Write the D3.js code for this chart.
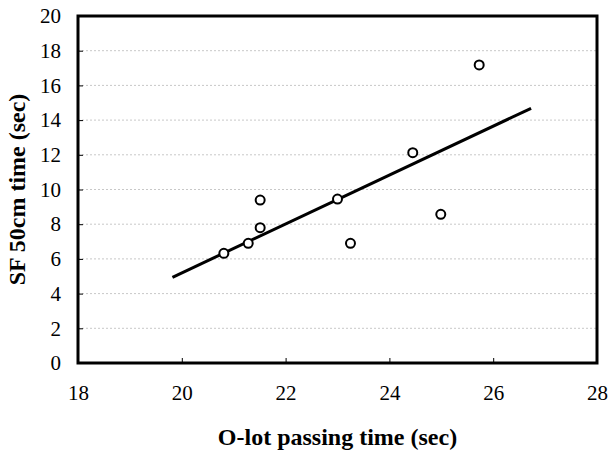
<html>
<head>
<script src="https://d3js.org/d3.v7.min.js"></script>
</head>
<style>
body { margin:0; background:#fff; }
</style>
<body>
<script>

// data
var oLot = [20.81, 21.28, 21.51, 21.51, 23.0, 23.25, 24.45, 24.99, 25.73];
var sf50 = [6.32, 6.90, 7.80, 9.39, 9.45, 6.90, 12.12, 8.57, 17.18];
var trendX = [19.82, 26.73];
var trendY = [4.94, 14.68];
var xTicks = [18, 20, 22, 24, 26, 28];
var yTicks = [0, 2, 4, 6, 8, 10, 12, 14, 16, 18, 20];

var width = 608;
var height = 454;
var margin = {top:16, right:11, bottom:91, left:78};
var w = width - margin.left - margin.right;
var h = height - margin.top - margin.bottom;

var svg = d3.select("body").append("svg")
    .attr("width", width)
    .attr("height", height)
    .append("g")
    .attr("transform", "translate(" + margin.left + "," + margin.top + ")");

var x = d3.scaleLinear().domain([18, 28]).range([0, w]);
var y = d3.scaleLinear().domain([0, 20]).range([h, 0]);

// faint dotted grid
svg.append("g")
  .selectAll("line")
  .data(yTicks.filter(function(d){ return d > 0 && d < 20; }))
  .enter().append("line")
    .attr("x1", 0).attr("x2", w)
    .attr("y1", function(d){ return y(d); })
    .attr("y2", function(d){ return y(d); })
    .attr("stroke", "#c8c8c8")
    .attr("stroke-width", 1)
    .attr("stroke-dasharray", "2,2");

var font = "'Liberation Serif', 'Times New Roman', serif";

var xAxis = svg.append("g")
    .attr("transform", "translate(0," + h + ")")
    .call(d3.axisBottom(x).tickValues(xTicks).tickSize(-5).tickPadding(22).tickFormat(d3.format("d")));
var yAxis = svg.append("g")
    .call(d3.axisLeft(y).tickValues(yTicks).tickSize(-5).tickPadding(17).tickFormat(d3.format("d")));

[xAxis, yAxis].forEach(function(a){
  a.attr("font-family", null).attr("font-size", null);
  a.select(".domain").remove();
  a.selectAll("line").attr("stroke", "#000").attr("stroke-width", 1);
  a.selectAll("text")
    .style("font-family", font)
    .style("font-size", "21px")
    .attr("fill", "#000");
});

// frame
svg.append("rect")
  .attr("x", 0).attr("y", 0)
  .attr("width", w).attr("height", h)
  .attr("fill", "none")
  .attr("stroke", "#000")
  .attr("stroke-width", 3);

// trend line
svg.append("line")
  .attr("x1", x(trendX[0])).attr("y1", y(trendY[0]))
  .attr("x2", x(trendX[1])).attr("y2", y(trendY[1]))
  .attr("stroke", "#000")
  .attr("stroke-width", 3);

// points
svg.append("g")
  .selectAll("circle")
  .data(oLot)
  .enter().append("circle")
    .attr("cx", function(d){ return x(d); })
    .attr("cy", function(d, i){ return y(sf50[i]); })
    .attr("r", 4.5)
    .attr("fill", "#fff")
    .attr("stroke", "#000")
    .attr("stroke-width", 2);

svg.append("text")
  .attr("x", w/2)
  .attr("y", h + 82)
  .attr("text-anchor", "middle")
  .style("font-family", font)
  .style("font-weight", "bold")
  .style("font-size", "24px")
  .text("O-lot passing time (sec)");

svg.append("text")
  .attr("transform", "translate(" + (-53) + "," + (h/2) + ") rotate(-90)")
  .attr("text-anchor", "middle")
  .style("font-family", font)
  .style("font-weight", "bold")
  .style("font-size", "24px")
  .text("SF 50cm time (sec)");

</script>
</body>
</html>
